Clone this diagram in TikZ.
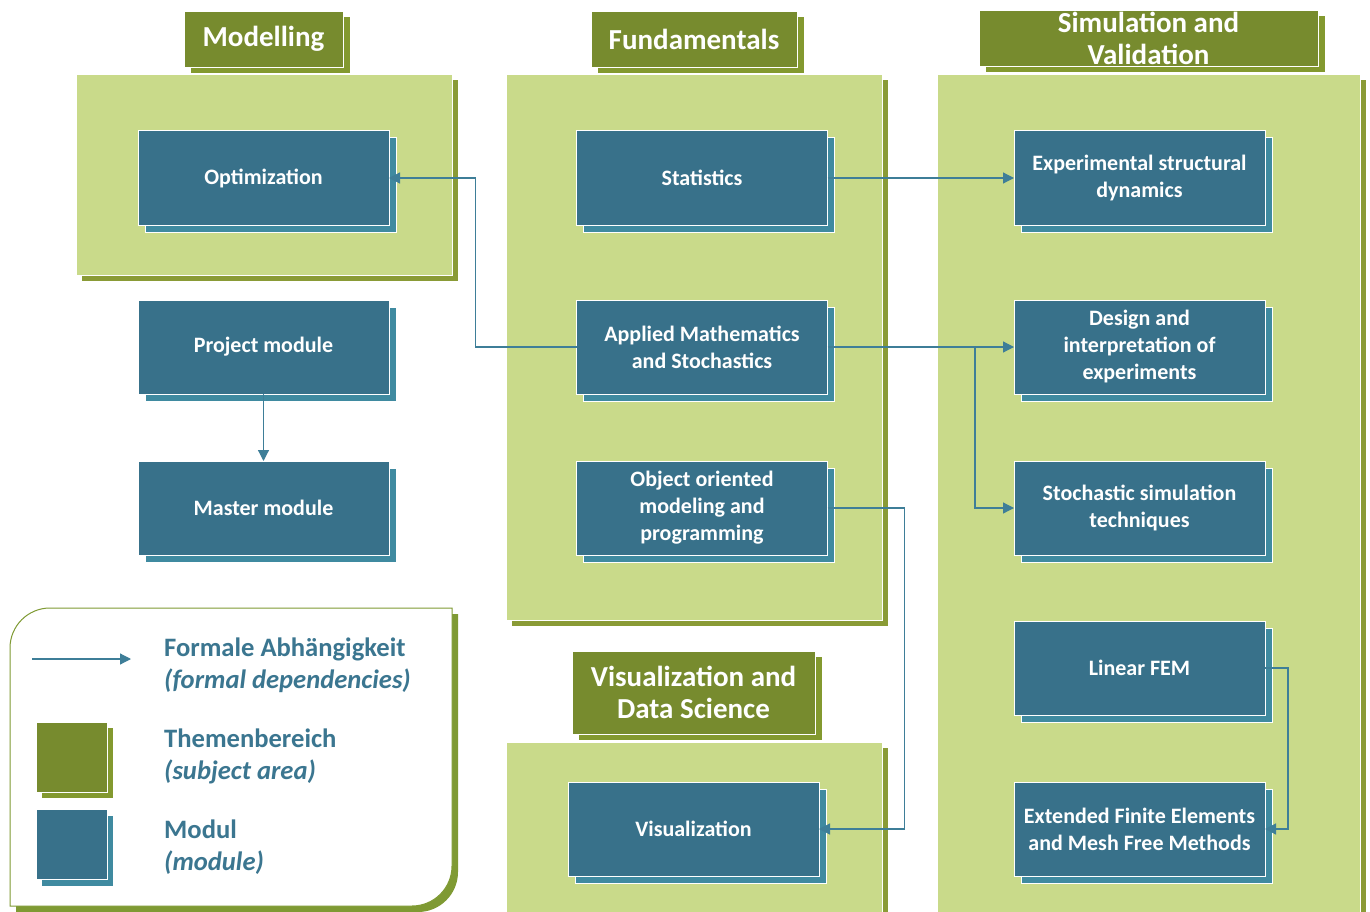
\documentclass[tikz,border=0pt]{standalone}
\usepackage{fontspec}
\setmainfont{Carlito}
\usetikzlibrary{shadows,arrows.meta}
\definecolor{areagreen}{HTML}{C9DA8A}
\definecolor{areashadow}{HTML}{8A9B36}
\definecolor{titlegreen}{HTML}{778B2E}
\definecolor{titleshadow}{HTML}{83992F}
\definecolor{modblue}{HTML}{38718A}
\definecolor{modshadow}{HTML}{3F8AA0}
\definecolor{linecol}{HTML}{3E7E98}
\definecolor{legtext}{HTML}{3B7690}
\definecolor{legborder}{HTML}{7F9A33}
\begin{document}
\begin{tikzpicture}[x=1pt,y=1pt,
  area/.style={fill=areagreen, draw=white, line width=0.8pt, inner sep=0pt, outer sep=0pt,
    general shadow={fill=areashadow, shadow xshift=6pt, shadow yshift=-6pt}},
  titlebox/.style={fill=titlegreen, draw=white, line width=0.8pt, text=white, align=center,
    font=\fontsize{29}{32}\selectfont\bfseries, inner sep=0pt, outer sep=0pt,
    general shadow={fill=titleshadow, shadow xshift=7pt, shadow yshift=-6pt}},
  modbox/.style={fill=modblue, draw=white, line width=1pt, text=white, align=center,
    font=\fontsize{22}{27}\selectfont\bfseries, minimum width=251pt, minimum height=94pt,
    inner sep=0pt, outer sep=0pt,
    general shadow={fill=modshadow, draw=white, line width=1pt, shadow xshift=7pt, shadow yshift=-7pt}},
  arr/.style={draw=linecol, line width=1.2pt, -{Triangle[length=11pt,width=11pt]}},
  legtxt/.style={text=legtext, anchor=base west, inner sep=0pt, font=\fontsize{26.6}{32}\selectfont\bfseries},
  legit/.style={text=legtext, anchor=base west, inner sep=0pt, font=\fontsize{26.6}{32}\selectfont\bfseries\itshape}
]
\useasboundingbox (0,0) rectangle (1370,-912);
\clip (0,0) rectangle (1370,-912);

% subject areas
\node[area, minimum width=376pt, minimum height=201pt] (amod) at (264,-174.5) {};
\node[area, minimum width=376pt, minimum height=546pt] (afun) at (694,-347) {};
\node[area, minimum width=423pt, minimum height=846pt] (asim) at (1148.5,-497) {};
\node[area, minimum width=376pt, minimum height=178pt] (avis) at (694,-831) {};

% titles
\node[titlebox, minimum width=159pt, minimum height=56pt] (tmod) at (263.5,-39) {Modelling};
\node[titlebox, minimum width=206pt, minimum height=56pt] (tfun) at (694,-39) {Fundamentals};
\node[titlebox, minimum width=339pt, minimum height=56pt] (tsim) at (1148.5,-38) {Simulation and\\Validation};
\node[titlebox, minimum width=243pt, minimum height=83pt] (tvis) at (693.5,-692.5) {Visualization and\\Data Science};

% modules
\node[modbox] (opt)  at (263.5,-178) {Optimization};
\node[modbox] (proj) at (263.5,-347) {Project module};
\node[modbox] (mast) at (263.5,-508) {Master module};
\node[modbox] (stat) at (702,-178) {Statistics};
\node[modbox] (am)   at (702,-347) {Applied Mathematics\\and Stochastics};
\node[modbox] (oop)  at (702,-508) {Object oriented\\modeling and\\programming};
\node[modbox] (exp)  at (1139.5,-178) {Experimental structural\\dynamics};
\node[modbox] (des)  at (1139.5,-347) {Design and\\interpretation of\\experiments};
\node[modbox] (sto)  at (1139.5,-508) {Stochastic simulation\\techniques};
\node[modbox] (fem)  at (1139.5,-668) {Linear FEM};
\node[modbox] (xfe)  at (1139.5,-829) {Extended Finite Elements\\and Mesh Free Methods};
\node[modbox] (vis)  at (693.5,-829) {Visualization};

% connectors
\draw[arr] (am.west) -- ++(-101,0) |- (opt.east);
\draw[arr] (stat.east) -- (exp.west);
\draw[arr] (am.east) -- (des.west);
\coordinate (br) at (975,-347);
\draw[arr] (br) |- (sto.west);
\draw[arr] (oop.east) -- ++(77,0) |- (vis.east);
\draw[arr] (fem.east) -- ++(23,0) |- (xfe.east);
\draw[arr] (proj.south) -- (mast.north);

% legend
\fill[legborder] (16,-912) -- (16,-654) arc[start angle=180,end angle=90,radius=40] -- (458,-614) -- (458,-872) arc[start angle=0,end angle=-90,radius=40] -- cycle;
\draw[legborder, fill=white, line width=1pt] (10,-906) -- (10,-648) arc[start angle=180,end angle=90,radius=40] -- (452,-608) -- (452,-866) arc[start angle=0,end angle=-90,radius=40] -- cycle;
\coordinate (la) at (32,-659);
\coordinate (lb) at (131,-659);
\draw[arr] (la) -- (lb);
\node[fill=titlegreen, draw=white, line width=0.8pt, minimum width=71pt, minimum height=70pt, inner sep=0pt,
  general shadow={fill=titleshadow, shadow xshift=6pt, shadow yshift=-6pt}] (lg) at (71.5,-757) {};
\node[fill=modblue, draw=white, line width=0.8pt, minimum width=71pt, minimum height=70pt, inner sep=0pt,
  general shadow={fill=modshadow, shadow xshift=6pt, shadow yshift=-7pt}] (lm) at (71.5,-844) {};
\node[legtxt] (l1) at (164,-656) {Formale Abhängigkeit};
\node[legit]  (l2) at (164,-688) {(formal dependencies)};
\node[legtxt] (l3) at (164,-747) {Themenbereich};
\node[legit]  (l4) at (164,-779) {(subject area)};
\node[legtxt] (l5) at (164,-838) {Modul};
\node[legit]  (l6) at (164,-870) {(module)};
\end{tikzpicture}
\end{document}
